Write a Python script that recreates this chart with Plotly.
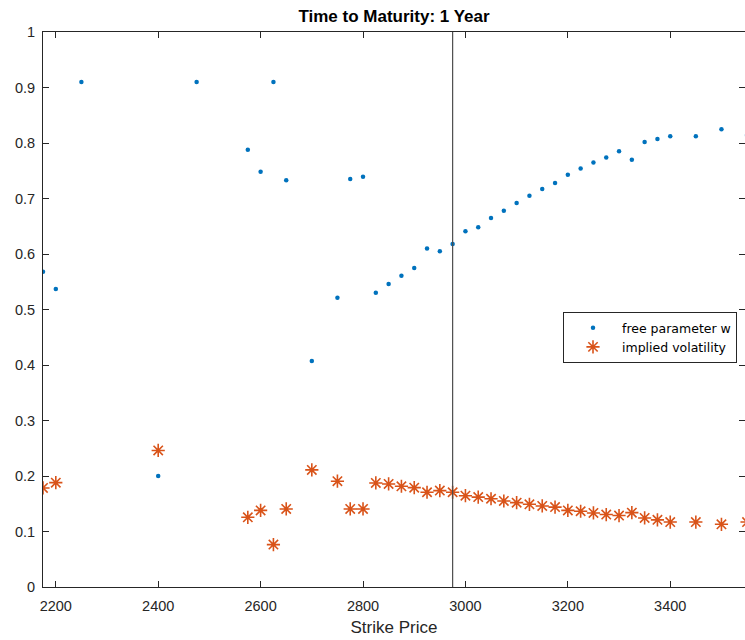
import plotly.graph_objects as go

strikes = [2175, 2200, 2250, 2400, 2475, 2575, 2600, 2625, 2650, 2700,
           2750, 2775, 2800, 2825, 2850, 2875, 2900, 2925, 2950, 2975,
           3000, 3025, 3050, 3075, 3100, 3125, 3150, 3175, 3200, 3225,
           3250, 3275, 3300, 3325, 3350, 3375, 3400, 3450, 3500, 3550]
free_param_w = [0.568, 0.537, 0.910, 0.200, 0.910, 0.788, 0.748, 0.910, 0.733, 0.407,
                0.521, 0.735, 0.739, 0.530, 0.546, 0.561, 0.575, 0.610, 0.605, 0.618,
                0.641, 0.648, 0.665, 0.678, 0.692, 0.705, 0.717, 0.728, 0.743, 0.754,
                0.765, 0.774, 0.785, 0.770, 0.802, 0.807, 0.812, 0.812, 0.825, 0.814]
implied_vol = [0.1785, 0.188, None, 0.246, None, 0.1256, 0.138, 0.0764, 0.1406, 0.211,
               0.1906, 0.1406, 0.1406, 0.1875, 0.1857, 0.1815, 0.179, 0.1707, 0.1737, 0.1707,
               0.1645, 0.162, 0.159, 0.155, 0.152, 0.149, 0.146, 0.144, 0.138, 0.1365,
               0.1334, 0.1305, 0.1287, 0.134, 0.1244, 0.121, 0.117, 0.117, 0.113, 0.117]
spot_price = 2975
x_ticks = [2200, 2400, 2600, 2800, 3000, 3200, 3400]
y_ticks = [0, 0.1, 0.2, 0.3, 0.4, 0.5, 0.6, 0.7, 0.8, 0.9, 1]
x_range = [2175, 3546]
y_range = [0, 1]

FONT = "Liberation Sans, Arial, Helvetica, sans-serif"
AXC = "#262626"

fig = go.Figure()
fig.add_trace(go.Scatter(
    x=strikes, y=free_param_w, mode="markers", name="free parameter w",
    marker=dict(symbol="circle", size=4.5, color="#0072BD")))
fig.add_trace(go.Scatter(
    x=strikes, y=implied_vol, mode="markers", name="implied volatility",
    marker=dict(symbol="asterisk-open", size=11,
                line=dict(color="#D95319", width=1.6), color="#D95319")))
fig.add_trace(go.Scatter(
    x=[spot_price, spot_price], y=y_range, mode="lines", yaxis="y2",
    line=dict(color="#4d4d4d", width=1.2), showlegend=False, hoverinfo="skip"))

fig.update_layout(
    width=745, height=640,
    margin=dict(l=43, r=0, t=32, b=53),
    paper_bgcolor="white", plot_bgcolor="white",
    font=dict(family=FONT, color=AXC),
    title=dict(text="<b>Time to Maturity: 1 Year</b>", x=0.5, xref="paper",
               y=1 - 16 / 640, yref="container", yanchor="middle", xanchor="center",
               font=dict(size=17, color="#000000", family=FONT)),
    xaxis=dict(range=x_range, tickvals=x_ticks, ticks="inside", ticklen=6,
               tickcolor=AXC, showline=True, linecolor=AXC, linewidth=1,
               mirror="ticks", showgrid=False, zeroline=False,
               tickfont=dict(size=14.5, color=AXC), ticklabelstandoff=6,
               title=dict(text="Strike Price", font=dict(size=17, color=AXC), standoff=7)),
    yaxis=dict(range=y_range, tickvals=y_ticks, ticks="inside", ticklen=6,
               tickcolor=AXC, showline=True, linecolor=AXC, linewidth=1,
               showgrid=False, zeroline=False,
               tickfont=dict(size=14.5, color=AXC), ticklabelstandoff=4),
    yaxis2=dict(range=y_range, tickvals=y_ticks, overlaying="y", side="right",
                anchor="x", ticks="inside", ticklen=6, tickcolor=AXC,
                showticklabels=False, showline=False, showgrid=False, zeroline=False),
    legend=dict(x=(563 - 43) / 702, y=(587 - 312) / 555, xanchor="left", yanchor="top",
                bordercolor=AXC, borderwidth=1, bgcolor="white",
                font=dict(size=12.5, color="#000000", family="DejaVu Sans, sans-serif"),
                tracegroupgap=0, itemwidth=48),
    showlegend=True,
)

fig.write_html("out.html")
